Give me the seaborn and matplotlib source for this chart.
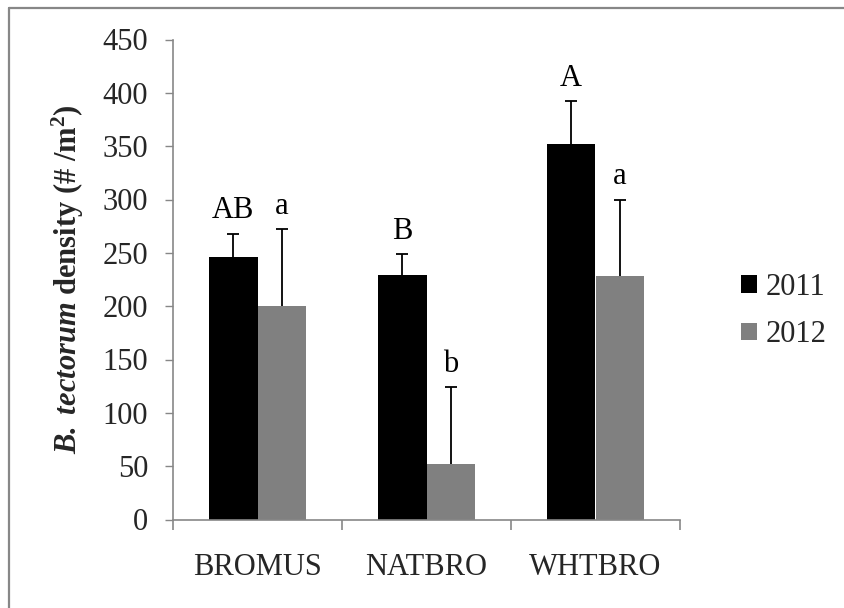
import matplotlib
matplotlib.use("Agg")
import matplotlib.pyplot as plt
from matplotlib.lines import Line2D
import seaborn as sns
import pandas as pd

categories = ["BROMUS", "NATBRO", "WHTBRO"]
years = ["2011", "2012"]
mean_2011 = [246, 229, 352]
mean_2012 = [200, 52, 228]
err_2011 = [22, 20, 40]
err_2012 = [72, 72, 72]
letters_2011 = ["AB", "B", "A"]
letters_2012 = ["a", "b", "a"]
y_ticks = [0, 50, 100, 150, 200, 250, 300, 350, 400, 450]

sns.set_style("ticks")
plt.rcParams['font.family'] = ['Liberation Serif', 'DejaVu Serif']
plt.rcParams['mathtext.fontset'] = 'custom'
plt.rcParams['mathtext.rm'] = 'Liberation Serif'
plt.rcParams['mathtext.it'] = 'Liberation Serif:italic'
plt.rcParams['mathtext.bf'] = 'Liberation Serif:bold'
plt.rcParams['mathtext.bfit'] = 'Liberation Serif:italic:bold'

df = pd.DataFrame({
    "Site": categories * 2,
    "Year": [years[0]] * 3 + [years[1]] * 3,
    "Density": mean_2011 + mean_2012,
})

FS = 22
grey = "#878787"
fig = plt.figure(figsize=(8.44, 6.08), dpi=100)
ax = fig.add_axes([173 / 844, 1 - 519.5 / 608, (680 - 173) / 844, 480 / 608])

sns.barplot(data=df, x="Site", y="Density", hue="Year", order=categories,
            hue_order=years, palette={"2011": "black", "2012": "#808080"},
            saturation=1, errorbar=None, width=0.575, ax=ax, linewidth=0)

bar_containers = list(ax.containers)
errs = [err_2011, err_2012]
means = [mean_2011, mean_2012]
letters = [letters_2011, letters_2012]
for ci, cont in enumerate(bar_containers):
    for bi, patch in enumerate(cont.patches):
        xc = patch.get_x() + patch.get_width() / 2
        m = means[ci][bi]
        e = errs[ci][bi]
        eb = ax.errorbar([xc], [m], yerr=[[0], [e]], fmt="none", ecolor="black",
                         elinewidth=1.3, capsize=4, capthick=1.3, zorder=3)
        caps = eb[1]
        if len(caps) > 1:
            caps[0].set_visible(False)
        ax.annotate(letters[ci][bi], (xc, m + e), xytext=(0, 11),
                    textcoords="offset points", ha="center", va="baseline",
                    fontsize=FS, color="black")

ax.set_ylim(0, 450)
ax.set_xlim(-0.5, 2.5)
ax.set_yticks(y_ticks)
ax.set_yticklabels([str(v) for v in y_ticks], fontsize=FS)
ax.set_xticks(range(len(categories)))
ax.set_xticklabels(categories, fontsize=FS)
ax.set_xticks([-0.5, 0.5, 1.5, 2.5], minor=True)
ax.tick_params(axis="x", which="major", length=0, pad=24)
ax.tick_params(axis="x", which="minor", length=7, width=1.2, color=grey, direction="out")
ax.tick_params(axis="y", which="major", length=6, width=1.0, color=grey, pad=12, direction="out")
ax.set_xlabel("")
ax.set_ylabel(r"$\mathbfit{B.\ tectorum}$ density (# /m$^{\mathbf{2}}$)",
              fontsize=FS, fontweight="bold", labelpad=12)
for s in ["top", "right"]:
    ax.spines[s].set_visible(False)
for s in ["left", "bottom"]:
    ax.spines[s].set_color(grey)
    ax.spines[s].set_linewidth(1.2)

handles, labels = ax.get_legend_handles_labels()
ax.legend(handles, labels, loc="center left", bbox_to_anchor=(1.12, 0.434),
          frameon=False, fontsize=FS, handlelength=0.52, handleheight=0.52,
          handletextpad=0.3, labelspacing=0.6, borderpad=0, borderaxespad=0)

fig.add_artist(Line2D([8.5 / 844, 1], [1 - 7.5 / 608, 1 - 7.5 / 608],
                      transform=fig.transFigure, color=grey, lw=1.6))
fig.add_artist(Line2D([8.5 / 844, 8.5 / 844], [0, 1 - 7.5 / 608],
                      transform=fig.transFigure, color=grey, lw=1.6))

fig.savefig("out.png", dpi=100)
